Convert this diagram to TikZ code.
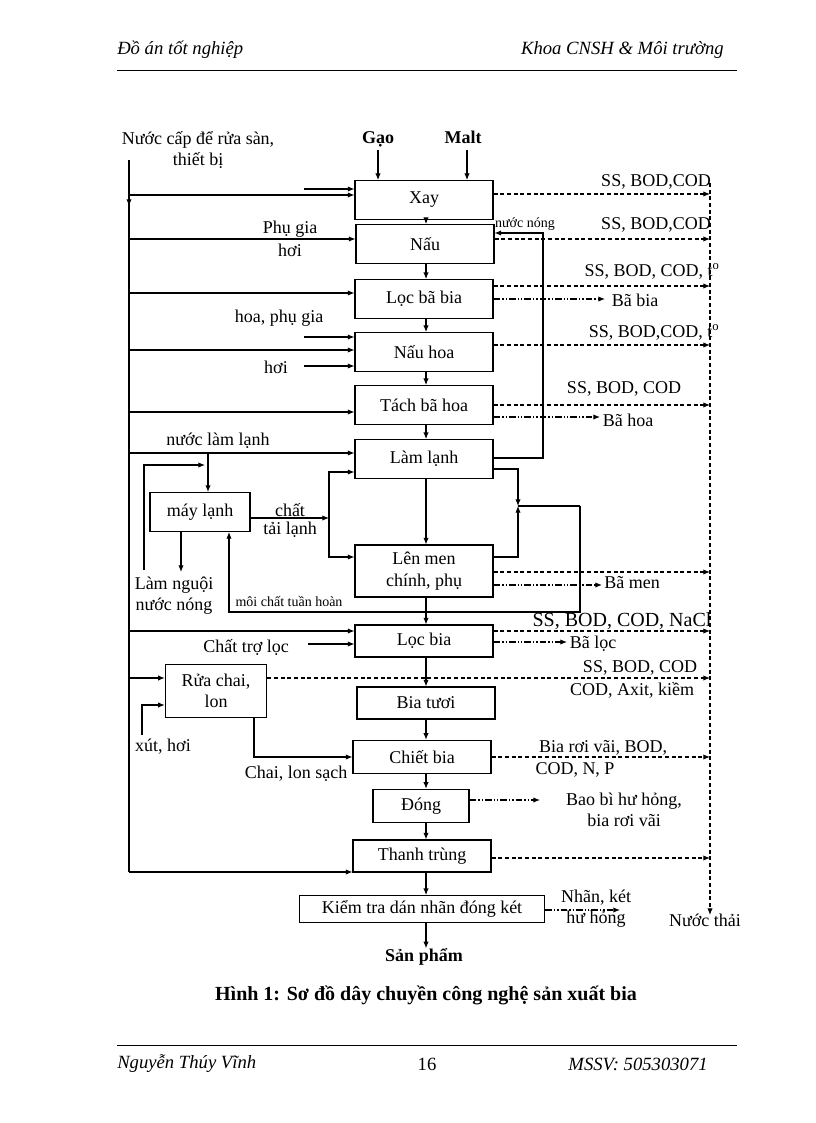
\documentclass[tikz,border=0pt]{standalone}
\usepackage{fontspec}
\setmainfont{Liberation Serif}
\usetikzlibrary{arrows.meta}
\tikzset{
  box/.style={draw,thick,inner sep=0pt,minimum width=103.5pt,minimum height=29pt,font=\fontsize{13.5}{16}\selectfont},
  txt/.style={inner sep=0pt,font=\fontsize{13.5}{16}\selectfont},
  sm/.style={inner sep=0pt,font=\fontsize{10.5}{12}\selectfont},
  to/.style={thick,-{Latex[length=5pt,width=4pt]}},
  waste/.style={thick,dash pattern=on 3pt off 2pt,-{Latex[length=5pt,width=4pt]}},
  solid/.style={thick,dash pattern=on 5pt off 1.5pt on 1pt off 1.5pt on 1pt off 1.5pt,-{Latex[length=5pt,width=4pt]}}
}
\begin{document}
\begin{tikzpicture}[x=0.75pt,y=-0.75pt]
\useasboundingbox (0,0) rectangle (816,1123);
% header and footer
\node[txt,anchor=west,font=\itshape\fontsize{14}{16}\selectfont] (h1) at (117,50) {Đồ án tốt nghiệp};
\node[txt,anchor=east,font=\itshape\fontsize{14}{16}\selectfont] (h2) at (724,50) {Khoa CNSH \& Môi trường};
\draw (117,70) -- (737,70);
\draw (117,1045) -- (737,1045);
\node[txt,anchor=west,font=\itshape\fontsize{14}{16}\selectfont] (f1) at (117,1064) {Nguyễn Thúy Vĩnh};
\node[txt,font=\fontsize{14}{16}\selectfont] (f2) at (427,1064) {16};
\node[txt,anchor=east,font=\itshape\fontsize{14}{16}\selectfont] (f3) at (708,1064) {MSSV: 505303071};
% process
\node[box] (xay) at (424,200) {Xay};
\node[box] (nau) at (425,244) {Nấu};
\node[box] (lbb) at (424,299) {Lọc bã bia};
\node[box] (nh) at (424,352) {Nấu hoa};
\node[box] (tbh) at (424,405) {Tách bã hoa};
\node[box] (ll) at (424,459) {Làm lạnh};
\node[box,minimum width=75pt] (ml) at (200,512) {máy lạnh};
\node[box,minimum height=39pt,align=center] (lm) at (424,571) {Lên men\\chính, phụ};
\node[box,minimum height=24pt] (lb) at (424,641) {Lọc bia};
\node[box,minimum width=76pt,minimum height=40pt,align=center] (rc) at (216,691) {Rửa chai,\\lon};
\node[box,minimum height=24pt] (bt) at (426,703) {Bia tươi};
\node[box,minimum height=25pt] (cb) at (422,757) {Chiết bia};
\node[box,minimum width=72pt,minimum height=25pt] (dong) at (421,806) {Đóng};
\node[box,minimum height=24pt] (tt) at (422,856) {Thanh trùng};
\node[box,minimum width=184pt,minimum height=20pt] (kt) at (422,909) {Kiểm tra dán nhãn đóng két};
\node[txt,font=\bfseries\fontsize{13.5}{16}\selectfont] (sp) at (424,957) {Sản phẩm};
\node[txt,font=\bfseries\fontsize{15}{18}\selectfont] (cap) at (426,995) {Hình 1: Sơ đồ dây chuyền công nghệ sản xuất bia};
% inputs
\node[txt,align=center] (nc) at (198,150) {Nước cấp để rửa sàn,\\thiết bị};
\node[txt,anchor=base,font=\bfseries\fontsize{13.5}{16}\selectfont] (gao) at (378,144) {Gạo};
\node[txt,anchor=base,font=\bfseries\fontsize{13.5}{16}\selectfont] (malt) at (463,144) {Malt};
\draw[to] (378,150) -- (378,0 |- xay.north);
\draw[to] (467,150) -- (467,0 |- xay.north);
\coordinate (top) at (129,160);
\draw[thick] (top) -- (129,872);
\draw[to] (top) -- (129,206);
\draw[to] (304,189) -- (xay.west |- 0,189);
\draw[to] (129,195) -- (xay.west |- 0,195);
\draw[to] (129,239) -- (nau.west |- 0,239);
\node[txt] (pg) at (290,229) {Phụ gia};
\node[txt] (hoi1) at (290,250) {hơi};
\draw[to] (129,293) -- (lbb.west |- 0,293);
\node[txt] (hpg) at (279,318) {hoa, phụ gia};
\draw[to] (304,337) -- (nh.west |- 0,337);
\draw[to] (129,350) -- (nh.west |- 0,350);
\node[txt] (hoi2) at (276,367) {hơi};
\draw[to] (304,366) -- (nh.west |- 0,366);
\draw[to] (129,412) -- (tbh.west |- 0,412);
\node[txt] (nll) at (218,441) {nước làm lạnh};
\draw[to] (129,453) -- (ll.west |- 0,453);
\draw[to] (208,453) -- (208,492);
% cooling loop
\draw[to] (ml.east |- 0,518) -- (329,518);
\node[txt] (ct1) at (290,510) {chất};
\node[txt] (ct2) at (290,530) {tải lạnh};
\draw[to] (329,518) -- (329,472) -- (ll.west |- 0,472);
\draw[to] (329,518) -- (329,557) -- (lm.west |- 0,557);
\draw[to] (181,532) -- (181,572);
\node[txt,align=center] (lng) at (174,596) {Làm nguội\\nước nóng};
\draw[to] (144,570) -- (144,465) -- (205,465);
\draw[to] (580,506) -- (580,612) -- (229,612) -- (229,532);
\node[sm] (mct) at (289,601) {môi chất tuần hoàn};
\draw[to] (ll.east |- 0,469) -- (518,469) -- (518,506);
\draw[to] (lm.east |- 0,557) -- (518,557) -- (518,506);
\draw[thick] (580,506) -- (518,506);
\draw[to] (ll.east |- 0,458) -- (543,458) -- (543,233) -- (nau.east |- 0,233);
\node[sm] (nn) at (525,224) {nước nóng};
% main line
\foreach \a/\b in {xay/nau,nau/lbb,lbb/nh,nh/tbh,tbh/ll,ll/lm,lm/lb,lb/bt,bt/cb,cb/dong,dong/tt,tt/kt,kt/sp}
  \draw[to] (426,0 |- \a.south) -- (426,0 |- \b.north);
% washing
\draw[to] (129,631) -- (lb.west |- 0,631);
\node[txt] (ctl) at (246,647) {Chất trợ lọc};
\draw[to] (308,644) -- (lb.west |- 0,644);
\draw[to] (129,678) -- (rc.west |- 0,678);
\draw[to] (142,735) -- (142,705) -- (rc.west |- 0,705);
\node[txt] (xh) at (163,747) {xút, hơi};
\draw[to] (254,718) -- (254,757) -- (cb.west);
\node[txt] (cls) at (296,774) {Chai, lon sạch};
\draw[to] (129,872) -- (tt.west |- 0,872);
% waste water
\node[txt] (nt) at (705,920) {Nước thải};
\draw[waste] (710,183) -- (710,915);
\draw[waste] (xay.east |- 0,194) -- (710,194);
\draw[waste] (nau.east |- 0,239) -- (710,239);
\draw[waste] (lbb.east |- 0,286) -- (710,286);
\draw[waste] (nh.east |- 0,345) -- (710,345);
\draw[waste] (tbh.east |- 0,405) -- (710,405);
\draw[waste] (lm.east |- 0,572) -- (710,572);
\draw[waste] (lb.east |- 0,631) -- (710,631);
\draw[waste] (rc.east |- 0,678) -- (710,678);
\draw[waste] (cb.east) -- (710,757);
\draw[waste] (tt.east |- 0,858) -- (710,858);
\node[txt] (w1) at (656,182) {SS, BOD,COD};
\node[txt] (w2) at (656,225) {SS, BOD,COD};
\node[txt] (w3) at (652,271) {SS, BOD, COD, t\textsuperscript{o}};
\node[txt] (w4) at (654,332) {SS, BOD,COD, t\textsuperscript{o}};
\node[txt] (w5) at (624,389) {SS, BOD, COD};
\node[txt,font=\fontsize{15}{17}\selectfont] (w6) at (622,621) {SS, BOD, COD, NaCl};
\node[txt] (w7) at (640,668) {SS, BOD, COD};
\node[txt] (w8) at (632,690) {COD, Axit, kiềm};
\node[txt] (w9) at (603,748) {Bia rơi vãi, BOD,};
\node[txt] (w10) at (575,770) {COD, N, P};
% solid waste
\draw[solid] (lbb.east |- 0,299) -- (605,299);
\node[txt] (bb) at (635,300) {Bã bia};
\draw[solid] (tbh.east |- 0,417) -- (600,417);
\node[txt] (bh) at (628,420) {Bã hoa};
\draw[solid] (lm.east |- 0,585) -- (602,585);
\node[txt] (bm) at (632,583) {Bã men};
\draw[solid] (lb.east |- 0,642) -- (567,642);
\node[txt] (bl) at (593,644) {Bã lọc};
\draw[solid] (dong.east |- 0,800) -- (540,800);
\node[txt,align=center] (bbh) at (624,810) {Bao bì hư hỏng,\\bia rơi vãi};
\draw[solid] (kt.east |- 0,910) -- (620,910);
\node[txt,align=center] (nk) at (596,909) {Nhãn, két\\hư hỏng};
\end{tikzpicture}
\end{document}
